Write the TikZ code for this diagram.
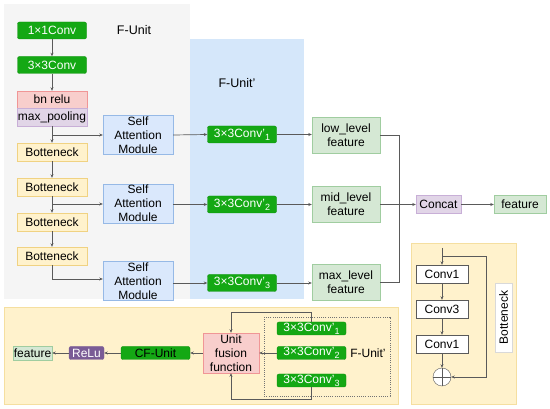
\documentclass[tikz,border=0pt]{standalone}
\usepackage{fontspec}
\setmainfont{Liberation Sans}
\usetikzlibrary{arrows.meta}
\definecolor{graybg}{RGB}{245,245,245}
\definecolor{bluebg}{RGB}{213,231,250}
\definecolor{ypanel}{RGB}{255,242,204}
\definecolor{ypanelb}{RGB}{245,223,160}
\definecolor{cgreen}{RGB}{20,168,20}
\definecolor{cgreenb}{RGB}{12,145,12}
\definecolor{lgreen}{RGB}{213,232,212}
\definecolor{lgreenb}{RGB}{160,205,160}
\definecolor{lblue}{RGB}{218,232,252}
\definecolor{lblueb}{RGB}{150,185,230}
\definecolor{lyel}{RGB}{255,242,204}
\definecolor{lyelb}{RGB}{240,210,130}
\definecolor{lred}{RGB}{248,206,204}
\definecolor{lredb}{RGB}{240,150,150}
\definecolor{lpur}{RGB}{225,213,231}
\definecolor{lpurb}{RGB}{200,175,215}
\definecolor{dpur}{RGB}{122,92,150}
\definecolor{lineg}{RGB}{90,90,90}
\newcommand{\sbs}[1]{\raisebox{-3pt}{\fontsize{9}{9}\selectfont #1}}
\tikzset{
  base/.style={inner sep=0pt, align=center, font=\fontsize{12}{14}\selectfont},
  conv/.style={base, fill=cgreen, draw=cgreenb, rounded corners=2pt, text=white, minimum width=69pt, minimum height=17pt},
  convs/.style={conv, minimum height=13pt},
  feat/.style={base, fill=lgreen, draw=lgreenb, minimum width=68pt, minimum height=36pt},
  sabox/.style={base, fill=lblue, draw=lblueb, minimum width=70pt, minimum height=39pt},
  bott/.style={base, fill=lyel, draw=lyelb, minimum width=70pt, minimum height=18pt},
  wbox/.style={base, fill=white, draw=lineg, minimum width=52pt, minimum height=18pt},
  arr/.style={draw=lineg, line width=0.7pt, -{Stealth[length=3.5pt,width=3pt]}},
  ln/.style={draw=lineg, line width=0.7pt},
  lab/.style={base, font=\fontsize{12.5}{14}\selectfont}
}
\begin{document}
\begin{tikzpicture}[x=1pt,y=-1pt]
\useasboundingbox (0,0) rectangle (550,409);
% panels
\fill[graybg] (4,4) rectangle (190,299);
\fill[bluebg] (190,39) rectangle (304,299);
\filldraw[fill=ypanel, draw=ypanelb] (4,307) rectangle (398,404);
\filldraw[fill=ypanel, draw=ypanelb] (411,243) rectangle (516,404);

% F-Unit
\node[lab] (fu) at (134,30) {F-Unit};
\node[conv] (c1) at (52,30.5) {1×1Conv};
\node[conv] (c3) at (52,65) {3×3Conv};
\node[base, fill=lred, draw=lredb, minimum width=70pt, minimum height=17pt] (bn) at (52,99.5) {bn relu};
\node[base, fill=lpur, draw=lpurb, minimum width=70pt, minimum height=18pt] (mp) at (52,117) {max\_pooling};
\node[bott] (b1) at (52,152) {Botteneck};
\node[bott] (b2) at (52,187) {Botteneck};
\node[bott] (b3) at (52,222) {Botteneck};
\node[bott] (b4) at (52,256) {Botteneck};
\node[sabox] (sa1) at (138,135) {Self\\Attention\\Module};
\node[sabox] (sa2) at (138,203.5) {Self\\Attention\\Module};
\node[sabox] (sa3) at (138,281) {Self\\Attention\\Module};

\draw[arr] (c1) -- (c3);
\draw[arr] (c3) -- (bn);
\draw[arr] (mp) -- (b1);
\draw[arr] (b1) -- (b2);
\draw[arr] (b2) -- (b3);
\draw[arr] (b3) -- (b4);
\coordinate (j1) at (52,135);
\coordinate (j2) at (52,204);
\draw[arr] (j1) -- (sa1.west);
\draw[arr] (j2) -- (sa2.west |- j2);
\draw[arr] (b4.south) |- ([yshift=2pt]sa3.west);

% F-Unit'
\node[lab] (fup) at (237,83) {F-Unit'};
\node[conv] (v1) at (242,134.5) {3×3Conv'\sbs{1}};
\node[conv] (v2) at (242,204.5) {3×3Conv'\sbs{2}};
\node[conv] (v3) at (242,283) {3×3Conv'\sbs{3}};
\draw[arr] (sa1.east) -- (v1.west);
\draw[arr] (sa2.east |- v2) -- (v2.west);
\draw[arr] (sa3.east |- v3) -- (v3.west);

\node[feat] (low) at (346,135) {low\_level\\feature};
\node[feat] (mid) at (346,204.5) {mid\_level\\feature};
\node[feat] (max) at (346,282.5) {max\_level\\feature};
\draw[arr] (v1.east) -- (low.west |- v1);
\draw[arr] (v2.east) -- (mid.west);
\draw[arr] (v3.east) -- (max.west |- v3);

\node[base, fill=lpur, draw=lpurb, minimum width=45pt, minimum height=18pt] (cat) at (438.5,204.5) {Concat};
\node[base, fill=lgreen, draw=lgreenb, minimum width=52pt, minimum height=18pt] (feat) at (520,204.5) {feature};
\coordinate (vt) at (399,135);
\coordinate (vb) at (399,282.5);
\draw[ln] (low.east) -- (vt) -- (vb) -- (max.east);
\draw[arr] (mid.east) -- (cat.west);
\draw[arr] (cat.east) -- (feat.west);

% Botteneck detail
\node[wbox] (bc1) at (442,274) {Conv1};
\node[wbox] (bc2) at (442,309) {Conv3};
\node[wbox] (bc3) at (442,344) {Conv1};
\node[circle, draw=lineg, fill=white, minimum size=18pt, inner sep=0pt,
  path picture={\draw[lineg] (path picture bounding box.north) -- (path picture bounding box.south)
  (path picture bounding box.west) -- (path picture bounding box.east);}] (plus) at (442,377) {};
\node[base, fill=white, draw=black!15, minimum width=69pt, minimum height=17pt, rotate=90] (blab) at (503.5,317.5) {Botteneck};
\coordinate (bin) at (442,248);
\coordinate (bs1) at (442,256);
\coordinate (bs2) at (486,256);
\draw[arr] (bin) -- (bc1.north);
\draw[arr] (bs1) -- (bs2) |- (plus.east);
\draw[arr] (bc1) -- (bc2);
\draw[arr] (bc2) -- (bc3);
\draw[arr] (bc3) -- (plus);

% bottom panel
\node[base, fill=lgreen, draw=lgreenb, minimum width=39pt, minimum height=14pt] (bfeat) at (32.5,353) {feature};
\node[base, fill=dpur, draw=dpur, text=white, rounded corners=2pt, minimum width=35pt, minimum height=13pt] (relu) at (86.5,353) {ReLu};
\node[base, fill=cgreen, draw=cgreenb, rounded corners=2pt, minimum width=69pt, minimum height=13pt] (cf) at (155.5,353) {CF-Unit};
\node[base, fill=lred, draw=lredb, minimum width=56pt, minimum height=40pt] (uff) at (231,353) {Unit\\fusion\\function};
\draw[black!55, dash pattern=on 1pt off 1.2pt, line width=0.5pt] (264,317) rectangle (390,396);
\node[convs] (w1) at (311.5,328.5) {3×3Conv'\sbs{1}};
\node[convs] (w2) at (311.5,353) {3×3Conv'\sbs{2}};
\node[convs] (w3) at (311.5,380.5) {3×3Conv'\sbs{3}};
\node[lab, font=\fontsize{12}{14}\selectfont] (fup2) at (368,353) {F-Unit'};
\draw[arr] (w2.west) -- (uff.east);
\draw[arr] (w1.north) -- ++(0,-9) -| (uff.north);
\draw[arr] (w3.south) -- ++(0,12) -| (uff.south);
\draw[arr] (uff.west) -- (cf.east);
\draw[arr] (cf.west) -- (relu.east);
\draw[arr] (relu.west) -- (bfeat.east);
\end{tikzpicture}
\end{document}
